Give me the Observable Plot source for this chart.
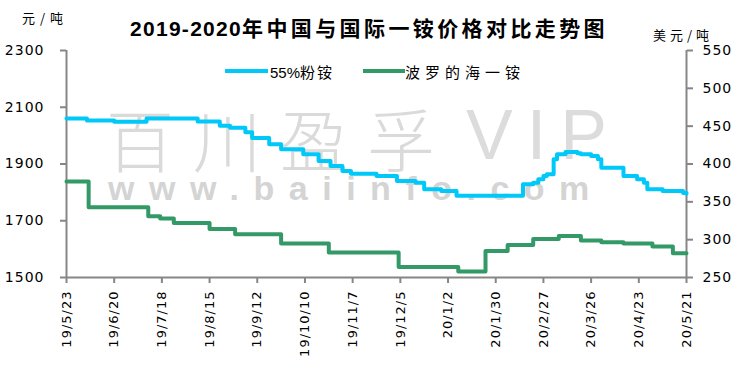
<!DOCTYPE html>
<html><head><meta charset="utf-8">
<script src="https://cdn.jsdelivr.net/npm/d3@7"></script>
<script src="https://cdn.jsdelivr.net/npm/@observablehq/plot@0.6"></script>
<style>
body{margin:0;background:#fff;}
#wrap{position:relative;width:740px;height:367px;overflow:hidden;font-family:"DejaVu Sans","Noto Sans CJK SC",sans-serif;}
.abs{position:absolute;white-space:nowrap;}
#chart{position:absolute;left:0;top:0;}
#chart svg g[aria-label="x-axis tick label"] text{letter-spacing:1px;}
#chart svg g[aria-label="y-axis tick label"] text{letter-spacing:1px;}
</style></head><body>
<div id="wrap">
  <div class="abs" style="left:106px;top:108px;font-size:68px;line-height:60px;letter-spacing:19px;color:#dadada;font-family:'Noto Sans CJK SC';font-weight:300;">百川盈孚</div>
  <div class="abs" style="left:466px;top:104px;font-size:70px;line-height:62px;letter-spacing:14px;color:#dcdcdc;font-family:'Liberation Sans',Arial;">VIP</div>
  <div class="abs" style="left:108px;top:174px;font-size:34px;line-height:28px;letter-spacing:14.5px;color:#d4d4d4;font-family:'Liberation Sans',Arial;font-weight:bold;">www.baiinfo.com</div>
  <div id="chart"></div>
  <div class="abs" id="title" style="left:130px;top:17px;font-size:21px;line-height:21px;font-weight:bold;color:#000;"></div>
  <div class="abs" id="unitL" style="left:22px;top:10px;font-size:13px;line-height:15px;letter-spacing:5px;color:#000;font-family:'Noto Sans CJK SC';"></div>
  <div class="abs" id="unitR" style="left:653px;top:27px;font-size:13px;line-height:15px;letter-spacing:4px;color:#000;font-family:'Noto Sans CJK SC';"></div>
  <div class="abs" style="left:225px;top:69px;width:43px;height:4px;background:#00C8F8;"></div>
  <div class="abs" id="leg1" style="left:270px;top:63px;font-size:15px;line-height:17px;color:#000;"></div>
  <div class="abs" style="left:363px;top:69px;width:42px;height:4px;background:#339966;"></div>
  <div class="abs" id="leg2" style="left:405px;top:63px;font-size:15px;line-height:17px;letter-spacing:5px;color:#000;font-family:'Noto Sans CJK SC';"></div>
</div>
<script>
const titleYear = "2019-2020";
const titleText = "年中国与国际一铵价格对比走势图";
const unitLeft = "元/吨";
const unitRight = "美元/吨";
const seriesNames = ["55%粉铵", "波罗的海一铵"];

const xTickLabels = ["2019-05-23","2019-06-20","2019-07-18","2019-08-15","2019-09-12","2019-10-10","2019-11-07","2019-12-05","2020-01-02","2020-01-30","2020-02-27","2020-03-26","2020-04-23","2020-05-21"];
const leftTicks = [1500, 1700, 1900, 2100, 2300];
const rightTicks = [250, 300, 350, 400, 450, 500, 550];

// 55%粉铵 (元/吨), left axis
const blueDates = ["2019-05-23","2019-06-04","2019-06-20","2019-07-09","2019-08-08","2019-08-21","2019-08-27","2019-09-05","2019-09-09","2019-09-19","2019-09-26","2019-10-09","2019-10-18","2019-10-25","2019-11-01","2019-11-06","2019-11-21","2019-12-03","2019-12-14","2019-12-19","2019-12-29","2020-01-07","2020-02-15","2020-02-21","2020-02-24","2020-02-27","2020-02-29","2020-03-04","2020-03-06","2020-03-11","2020-03-18","2020-03-20","2020-03-26","2020-03-30","2020-04-01","2020-04-14","2020-04-22","2020-04-26","2020-04-28","2020-05-07","2020-05-19","2020-05-21"];
const blueValues = [2060,2053,2049,2060,2050,2035,2028,2012,1992,1970,1952,1934,1911,1893,1875,1866,1858,1840,1834,1811,1805,1788,1829,1834,1846,1858,1864,1917,1934,1942,1938,1934,1928,1917,1887,1858,1846,1834,1811,1805,1798,1795];

// 波罗的海一铵 (美元/吨), right axis
const greenDates = ["2019-05-23","2019-06-05","2019-07-10","2019-07-17","2019-07-25","2019-08-15","2019-08-30","2019-09-26","2019-10-24","2019-12-04","2020-01-08","2020-01-24","2020-02-06","2020-02-21","2020-03-07","2020-03-20","2020-04-01","2020-04-14","2020-05-01","2020-05-13","2020-05-21"];
const greenValues = [377,343,331,328,322,314,307,295,283,264,258,285,293,301,305,299,296.5,295,291,282,282];

const parse = d3.utcParse("%Y-%m-%d");
const blue = blueDates.map((d, i) => ({date: parse(d), value: blueValues[i]}));
const green = greenDates.map((d, i) => ({date: parse(d), value: greenValues[i]}));

// right axis (250..550) mapped onto left axis domain (1500..2300)
const toLeft = v => 1500 + (v - 250) * (800 / 300);
const fromLeft = v => String(Math.round(250 + (v - 1500) * (300 / 800)));

const fmt = d => `${d.getUTCFullYear() % 100}/${d.getUTCMonth() + 1}/${d.getUTCDate()}`;
const xStart = parse(xTickLabels[0]);
const xEnd = parse(xTickLabels[xTickLabels.length - 1]);
const gray = "#868686";

// title: fit digits and CJK parts to the reference widths
const titleEl = document.getElementById("title");
const s1 = document.createElement("span");
s1.textContent = titleYear;
s1.style.fontFamily = "'Liberation Sans', Arial, sans-serif";
const s2 = document.createElement("span");
s2.textContent = titleText;
s2.style.fontFamily = "'Noto Sans CJK SC', sans-serif";
titleEl.appendChild(s1); titleEl.appendChild(s2);
function fit(span, target) {
  span.style.letterSpacing = "0px";
  const w = span.getBoundingClientRect().width;
  const n = span.textContent.length;
  span.style.letterSpacing = ((target - w) / n) + "px";
}
fit(s1, 112);
fit(s2, 366);

document.getElementById("unitL").textContent = unitLeft;
document.getElementById("unitR").textContent = unitRight;
document.getElementById("leg1").innerHTML = `<span style="font-family:'Liberation Sans',Arial">55%</span><span style="letter-spacing:2px;font-family:'Noto Sans CJK SC'">粉铵</span>`;
document.getElementById("leg2").textContent = seriesNames[1];

const chart = Plot.plot({
  width: 740,
  height: 367,
  marginLeft: 66,
  marginRight: 54,
  marginTop: 50,
  marginBottom: 90,
  style: {background: "transparent", fontFamily: "DejaVu Sans", overflow: "visible"},
  x: {type: "utc", domain: [xStart, xEnd]},
  y: {domain: [1500, 2300]},
  marks: [
    Plot.axisY({anchor: "left", ticks: leftTicks, tickSize: 6, tickPadding: 16, tickFormat: d => String(d), label: null, fontSize: 14, stroke: gray, strokeWidth: 2, fill: "#000"}),
    Plot.axisY({anchor: "right", ticks: rightTicks.map(toLeft), tickSize: 6, tickPadding: 10, tickFormat: fromLeft, label: null, fontSize: 14, stroke: gray, strokeWidth: 2, fill: "#000"}),
    Plot.axisX({ticks: xTickLabels.map(parse), tickFormat: fmt, tickRotate: -90, tickSize: 6, tickPadding: 7, label: null, fontSize: 13, stroke: gray, strokeWidth: 2, fill: "#000"}),
    Plot.ruleX([xStart, xEnd], {stroke: gray, strokeWidth: 2}),
    Plot.ruleY([1500], {stroke: gray, strokeWidth: 2}),
    Plot.line(blue, {x: "date", y: "value", curve: "step-after", stroke: "#00C8F8", strokeWidth: 4}),
    Plot.line(green, {x: "date", y: d => toLeft(d.value), curve: "step-after", stroke: "#339966", strokeWidth: 4})
  ]
});
document.getElementById("chart").appendChild(chart);
</script>
</body></html>
